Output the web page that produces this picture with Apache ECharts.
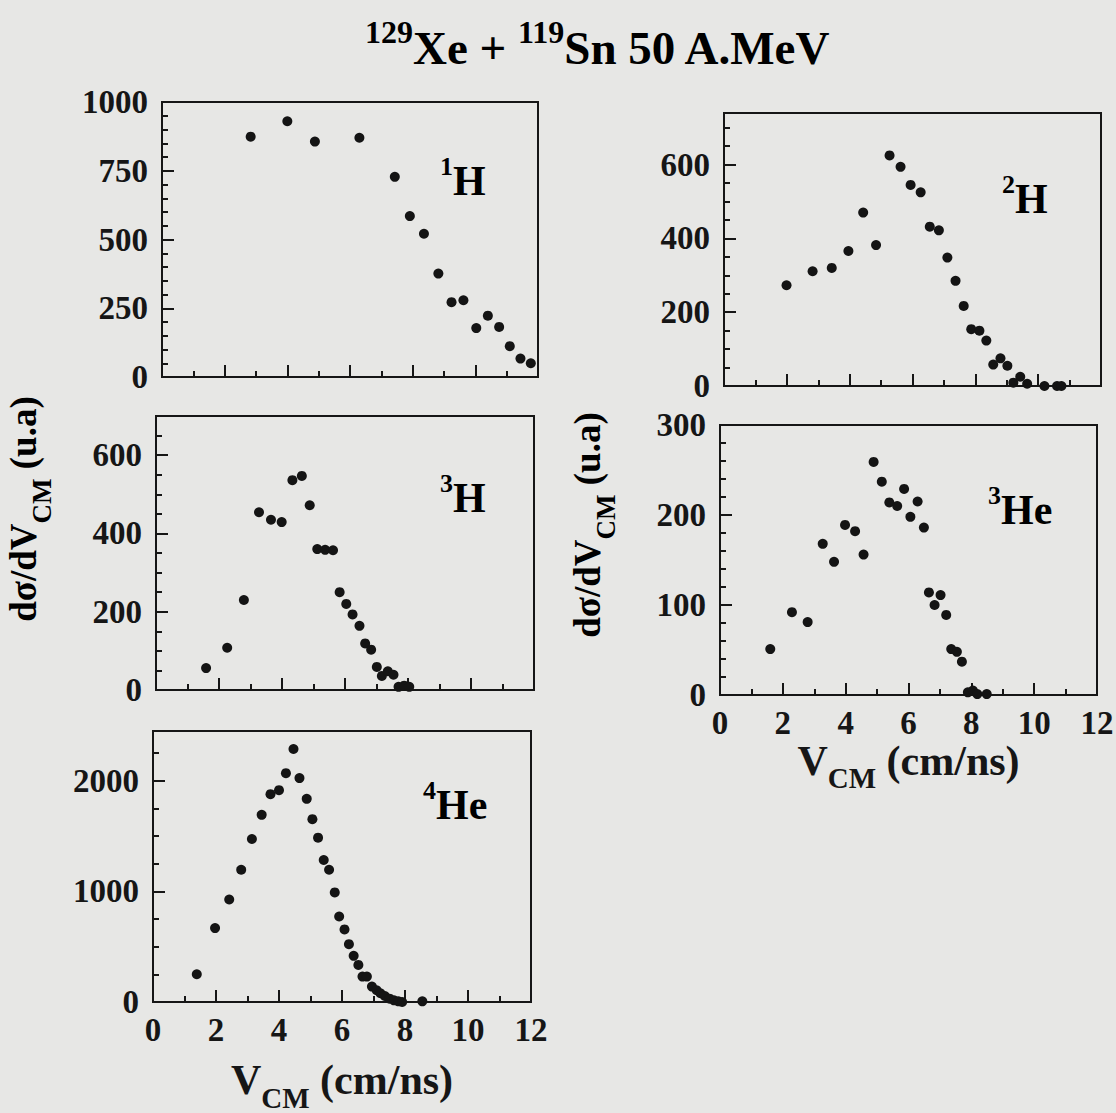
<!DOCTYPE html>
<html><head><meta charset="utf-8">
<script src="https://cdn.jsdelivr.net/npm/echarts@6/dist/echarts.min.js"></script>
<style>html,body{margin:0;padding:0;background:#e7e7e5}#c{width:1116px;height:1113px}</style>
</head><body><div id="c"></div>
<script>
// ---------- data ----------
const xTicks = [0, 2, 4, 6, 8, 10, 12];

const h1X = [2.83, 4.00, 4.88, 6.30, 7.43, 7.91, 8.36, 8.82, 9.24, 9.62, 10.03, 10.40, 10.76, 11.10, 11.44, 11.77];
const h1Y = [874, 930, 856, 870, 728, 585, 521, 376, 272, 279, 178, 223, 182, 112, 67, 50];
const h1YTicks = [0, 250, 500, 750, 1000];

const h2X = [1.99, 2.82, 3.43, 3.96, 4.43, 4.84, 5.27, 5.62, 5.94, 6.26, 6.55, 6.84, 7.11, 7.37, 7.63, 7.87, 8.13, 8.35, 8.57, 8.80, 9.02, 9.21, 9.43, 9.65, 10.20, 10.60, 10.74];
const h2Y = [273, 311, 320, 366, 470, 382, 625, 594, 545, 525, 432, 422, 348, 285, 217, 154, 150, 123, 58, 75, 55, 9, 25, 6, 0, 0, 0];
const h2YTicks = [0, 200, 400, 600];

const h3X = [1.59, 2.26, 2.79, 3.27, 3.65, 3.99, 4.33, 4.63, 4.88, 5.12, 5.37, 5.62, 5.83, 6.04, 6.24, 6.46, 6.64, 6.83, 7.01, 7.17, 7.36, 7.54, 7.70, 7.88, 8.04];
const h3Y = [56, 108, 230, 454, 435, 429, 536, 547, 472, 360, 358, 357, 250, 220, 193, 164, 119, 103, 59, 36, 48, 39, 8, 11, 8];
const h3YTicks = [0, 200, 400, 600];

const he3X = [1.60, 2.29, 2.79, 3.27, 3.63, 3.98, 4.30, 4.57, 4.89, 5.15, 5.39, 5.64, 5.86, 6.06, 6.29, 6.49, 6.65, 6.83, 7.02, 7.20, 7.36, 7.54, 7.70, 7.89, 8.05, 8.19, 8.49];
const he3Y = [51, 92, 81, 168, 148, 189, 182, 156, 259, 237, 214, 210, 229, 198, 215, 186, 114, 100, 111, 89, 51, 48, 37, 3, 5, 1, 1];
const he3YTicks = [0, 100, 200, 300];

const he4X = [1.39, 1.97, 2.42, 2.80, 3.14, 3.45, 3.73, 4.00, 4.22, 4.46, 4.65, 4.88, 5.06, 5.24, 5.42, 5.59, 5.77, 5.91, 6.08, 6.22, 6.37, 6.52, 6.65, 6.79, 6.95, 7.10, 7.22, 7.36, 7.51, 7.65, 7.79, 7.91, 8.55];
const he4Y = [251, 668, 927, 1196, 1474, 1692, 1879, 1915, 2069, 2287, 2024, 1837, 1653, 1486, 1284, 1196, 991, 773, 656, 523, 417, 335, 230, 230, 139, 106, 79, 54, 30, 15, 6, 0, 6];
const he4YTicks = [0, 1000, 2000];

// ---------- layout ----------
const FONT = "Liberation Serif";
const INK = '#161616';

const panels = [
  { xs: h1X, ys: h1Y, yMax: 1000, yTicks: h1YTicks, minorStep: 50, showX: false,
    grid: { left: 162, top: 102, width: 376, height: 275 } },
  { xs: h2X, ys: h2Y, yMax: 740, yTicks: h2YTicks, minorStep: 50, showX: false,
    grid: { left: 724, top: 113, width: 377, height: 273 } },
  { xs: h3X, ys: h3Y, yMax: 700, yTicks: h3YTicks, minorStep: 50, showX: false,
    grid: { left: 156, top: 416, width: 378, height: 274 } },
  { xs: he3X, ys: he3Y, yMax: 300, yTicks: he3YTicks, minorStep: 20, showX: true,
    grid: { left: 720, top: 425, width: 377, height: 270 } },
  { xs: he4X, ys: he4Y, yMax: 2450, yTicks: he4YTicks, minorStep: 250, showX: true,
    grid: { left: 153, top: 731, width: 378, height: 271 } }
];

function minorValues(max, step, majors) {
  const out = [];
  for (let v = step; v < max; v += step) if (majors.indexOf(v) < 0) out.push(v);
  return out;
}

const grid = [], xAxis = [], yAxis = [], series = [];
const numRich = { t: { fontFamily: FONT, fontWeight: 'bold', fontSize: 33, color: INK } };
const numFmt = v => '{t|' + v + '}';
const xNameRich = {
  b: { fontFamily: FONT, fontWeight: 'bold', fontSize: 42, color: INK },
  s: { fontFamily: FONT, fontWeight: 'bold', fontSize: 29, color: INK, verticalAlign: 'bottom', lineHeight: 64 }
};

panels.forEach((p, i) => {
  grid.push(Object.assign({ show: true, borderColor: INK, borderWidth: 2, backgroundColor: 'transparent',
    containLabel: false, outerBoundsMode: 'none' }, p.grid));
  xAxis.push({
    gridIndex: i, type: 'value', min: 0, max: 12, interval: 2,
    axisLine: { show: false }, splitLine: { show: false },
    axisTick: { inside: true, length: 12, lineStyle: { color: INK, width: 2 } },
    minorTick: { show: true, splitNumber: 2, length: 6, lineStyle: { color: INK, width: 2 } },
    axisLabel: { show: p.showX, margin: 11, customValues: xTicks, formatter: numFmt, rich: numRich },
    name: p.showX ? '{b|V}{s|CM}{b| (cm/ns)}' : '',
    nameLocation: 'middle', nameGap: i === 3 ? 33 : 46,
    nameTextStyle: { rich: xNameRich }
  });
  yAxis.push({
    gridIndex: i, type: 'value', min: 0, max: p.yMax, position: 'left', offset: 0,
    axisLine: { show: false }, splitLine: { show: false },
    axisTick: { inside: true, length: 12, customValues: p.yTicks, lineStyle: { color: INK, width: 2 } },
    axisLabel: { margin: 14, customValues: p.yTicks, formatter: numFmt, rich: numRich }
  });
  yAxis.push({
    gridIndex: i, type: 'value', min: 0, max: p.yMax, position: 'left', offset: 0,
    axisLine: { show: false }, splitLine: { show: false },
    axisTick: { inside: true, length: 6, customValues: minorValues(p.yMax, p.minorStep, p.yTicks), lineStyle: { color: INK, width: 2 } },
    axisLabel: { show: false }
  });
  series.push({
    type: 'scatter', xAxisIndex: i, yAxisIndex: 2 * i, clip: false,
    symbol: 'circle', symbolSize: 10, itemStyle: { color: '#141414', opacity: 1 },
    data: p.xs.map((x, k) => [x, p.ys[k]])
  });
});

const supRich = (big, sup, lh) => ({
  b: { fontFamily: FONT, fontWeight: 'bold', fontSize: big, color: INK, lineHeight: lh },
  s: { fontFamily: FONT, fontWeight: 'bold', fontSize: sup, color: INK, verticalAlign: 'top' }
});
function tag(text, x, y) {
  return { type: 'text', x: x, y: y, z: 10,
    style: { text: text, align: 'left', verticalAlign: 'top', rich: supRich(42, 26, 56) } };
}
const yTitleRich = {
  b: { fontFamily: FONT, fontWeight: 'bold', fontSize: 37, color: INK },
  s: { fontFamily: FONT, fontWeight: 'bold', fontSize: 27, color: INK, verticalAlign: 'bottom', lineHeight: 64 }
};
function yTitle(x, y) {
  return { type: 'text', x: x, y: y, rotation: Math.PI / 2,
    style: { text: '{b|d\u03c3/dV}{s|CM}{b| (u.a)}', align: 'center', verticalAlign: 'middle', rich: yTitleRich } };
}

const option = {
  backgroundColor: '#e7e7e5',
  animation: false,
  textStyle: { fontFamily: FONT },
  grid, xAxis, yAxis, series,
  graphic: [
    { type: 'text', x: 365, y: 16,
      style: { text: '{s|129}{b|Xe + }{s|119}{b|Sn 50 A.MeV}', align: 'left', verticalAlign: 'top', rich: supRich(47, 32, 63) } },
    tag('{s|1}{b|H}', 440, 153),
    tag('{s|2}{b|H}', 1002, 171),
    tag('{s|3}{b|H}', 440, 470),
    tag('{s|3}{b|He}', 988, 482),
    tag('{s|4}{b|He}', 423, 777),
    yTitle(23, 509),
    yTitle(587, 525)
  ]
};
const chart = echarts.init(document.getElementById('c'), null, { renderer: 'svg' });
chart.setOption(option);
</script>
</body></html>
